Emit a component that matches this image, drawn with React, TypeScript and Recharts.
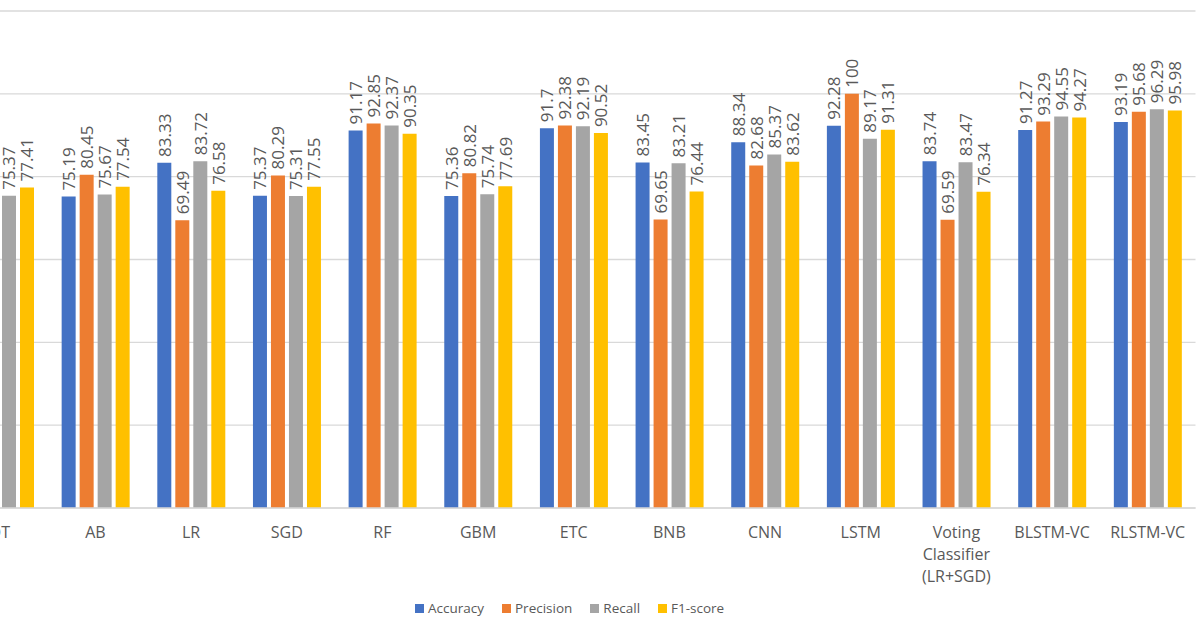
import React from 'react';
import { BarChart, Bar, XAxis, YAxis, CartesianGrid, LabelList, Legend } from 'recharts';

const categories = [
  'DT', 'AB', 'LR', 'SGD', 'RF', 'GBM', 'ETC', 'BNB', 'CNN', 'LSTM',
  'Voting Classifier (LR+SGD)', 'BLSTM-VC', 'RLSTM-VC',
];
// DT accuracy/precision are cut off in the reference: estimated
const accuracy = [75.37, 75.19, 83.33, 75.37, 91.17, 75.36, 91.7, 83.45, 88.34, 92.28, 83.74, 91.27, 93.19];
const precision = [80.31, 80.45, 69.49, 80.29, 92.85, 80.82, 92.38, 69.65, 82.68, 100, 69.59, 93.29, 95.68];
const recall = [75.37, 75.67, 83.72, 75.31, 92.37, 75.74, 92.19, 83.21, 85.37, 89.17, 83.47, 94.55, 96.29];
const f1score = [77.41, 77.54, 76.58, 77.55, 90.35, 77.69, 90.52, 76.44, 83.62, 91.31, 76.34, 94.27, 95.98];
const yTicks = [0, 20, 40, 60, 80, 100, 120];
const yMax = 120;

const seriesNames = ['Accuracy', 'Precision', 'Recall', 'F1-score'];
const seriesKeys = ['accuracy', 'precision', 'recall', 'f1'];
const seriesColors = ['#4472C4', '#ED7D31', '#A5A5A5', '#FFC000'];

const data = categories.map((c, i) => ({
  name: c,
  accuracy: accuracy[i],
  precision: precision[i],
  recall: recall[i],
  f1: f1score[i],
}));

const FONT = '"Open Sans", "Segoe UI", sans-serif';
const TEXT = '#595959';

const renderLabel = (props: any) => {
  const { x, y, width, value } = props;
  const cx = Number(x) + Number(width) / 2;
  const cy = Number(y) - 6;
  return (
    <text
      x={cx}
      y={cy}
      transform={`rotate(-90 ${cx} ${cy})`}
      textAnchor="start"
      dominantBaseline="central"
      fill={TEXT}
      fontSize={17}
      fontFamily={FONT}
    >
      {value}
    </text>
  );
};

const CategoryTick = (props: any) => {
  const { x, y, payload } = props;
  const lines = String(payload.value).split(' ');
  return (
    <text x={x} y={y} textAnchor="middle" fill={TEXT} fontSize={16} fontFamily={FONT}>
      {lines.map((l, i) => (
        <tspan key={i} x={x} dy={i === 0 ? 30 : 22}>
          {l}
        </tspan>
      ))}
    </text>
  );
};

const renderLegend = () => (
  <div
    style={{
      height: 20,
      width: 1300,
      display: 'flex',
      alignItems: 'center',
      paddingLeft: 515,
      boxSizing: 'border-box',
      fontFamily: FONT,
      fontSize: 13.5,
      color: TEXT,
    }}
  >
    {seriesNames.map((n, i) => (
      <div key={n} style={{ display: 'flex', alignItems: 'center', marginRight: 18 }}>
        <span style={{ width: 9, height: 9, background: seriesColors[i], display: 'inline-block', marginRight: 4 }} />
        <span>{n}</span>
      </div>
    ))}
  </div>
);

const gridGenerator = (props: any) => {
  const { yAxis, offset } = props;
  if (yAxis && typeof yAxis.scale === 'function') {
    return yTicks.map((t) => yAxis.scale(t));
  }
  return yTicks.map((t) => offset.top + offset.height * (1 - t / yMax));
};

export default function App() {
  return (
    <div
      style={{
        position: 'absolute',
        left: 0,
        top: 0,
        width: 1200,
        height: 628,
        overflow: 'hidden',
        background: '#ffffff',
      }}
    >
      <div style={{ position: 'absolute', left: -100, top: 0 }}>
        <BarChart
          width={1300}
          height={628}
          data={data}
          margin={{ top: 11, right: 4.5, bottom: 10, left: 52 }}
          barSize={14}
          barGap={4}
        >
          <CartesianGrid
            vertical={false}
            stroke="#d9d9d9"
            strokeWidth={1.3}
            horizontalCoordinatesGenerator={gridGenerator}
          />
          <YAxis
            domain={[0, yMax]}
            ticks={yTicks}
            width={0}
            tick={false}
            axisLine={false}
            tickLine={false}
          />
          <XAxis
            dataKey="name"
            height={90}
            interval={0}
            tickLine={false}
            tickSize={0}
            tickMargin={0}
            axisLine={{ stroke: '#d9d9d9', strokeWidth: 1.3 }}
            tick={<CategoryTick />}
          />
          <Legend verticalAlign="bottom" content={renderLegend} wrapperStyle={{ left: 0, width: 1300 }} />
          {seriesKeys.map((k, i) => (
            <Bar key={k} dataKey={k} name={seriesNames[i]} fill={seriesColors[i]} isAnimationActive={false}>
              <LabelList dataKey={k} content={renderLabel} />
            </Bar>
          ))}
        </BarChart>
      </div>
    </div>
  );
}
